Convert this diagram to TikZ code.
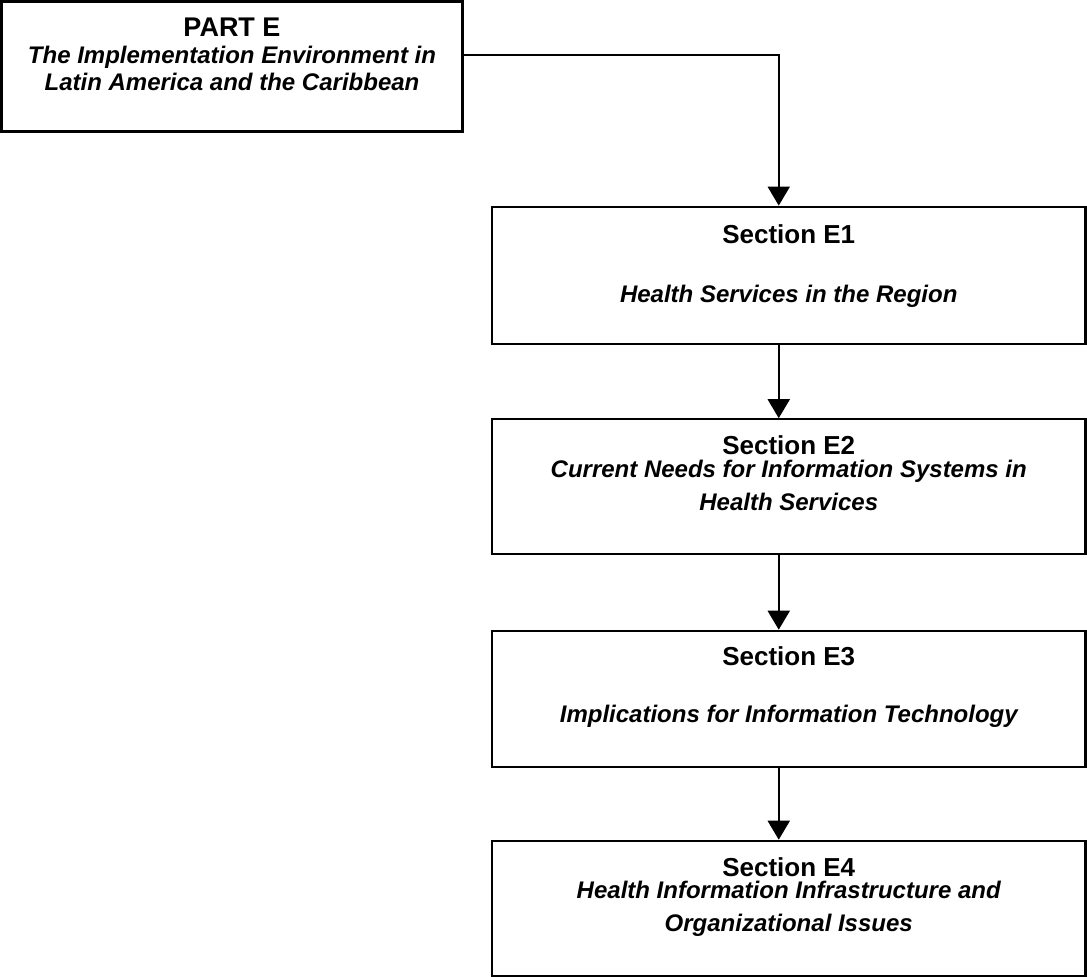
\documentclass[tikz,border=0pt]{standalone}
\usepackage{fontspec}
\setmainfont{Liberation Sans}
\usetikzlibrary{arrows.meta}
\begin{document}
\begin{tikzpicture}[x=1pt,y=-1pt,
  box/.style={draw, line width=2.2pt, rectangle, inner sep=0pt, minimum width=593.5pt},
  head/.style={anchor=base, inner sep=0pt, font=\fontsize{26}{30}\selectfont\bfseries},
  desc/.style={anchor=base, inner sep=0pt, font=\fontsize{24}{28}\selectfont\bfseries\itshape},
  conn/.style={line width=2pt, -{Triangle[width=22pt,length=19pt]}}]
\useasboundingbox (0,0) rectangle (1087,977);

% Part E header box
\node[box, minimum width=461pt, minimum height=130pt] (pe) at (232,66.5) {};
\node[head, font=\fontsize{27}{31}\selectfont\bfseries] (peh) at (232,36.7) {PART E};
\node[desc] (pel1) at (232,63) {The Implementation Environment in};
\node[desc] (pel2) at (232,90) {Latin America and the Caribbean};

% Section boxes
\node[box, minimum height=137.6pt] (e1) at (788.75,275.5) {};
\node[head] (e1h) at (788.75,243) {Section E1};
\node[desc] (e1d) at (788.75,302) {Health Services in the Region};

\node[box, minimum height=135pt] (e2) at (788.75,486.8) {};
\node[head] (e2h) at (788.75,454.5) {Section E2};
\node[desc] (e2d1) at (788.75,477.5) {Current Needs for Information Systems in};
\node[desc] (e2d2) at (788.75,510) {Health Services};

\node[box, minimum height=136pt] (e3) at (788.75,698.8) {};
\node[head] (e3h) at (788.75,665) {Section E3};
\node[desc] (e3d) at (788.75,722) {Implications for Information Technology};

\node[box, minimum height=135pt] (e4) at (788.75,908.3) {};
\node[head] (e4h) at (788.75,876.5) {Section E4};
\node[desc] (e4d1) at (788.75,898.5) {Health Information Infrastructure and};
\node[desc] (e4d2) at (788.75,931) {Organizational Issues};

% Connectors
\draw[conn] ([yshift=11.5pt]pe.east) -| ([xshift=-10pt]e1.north);
\draw[conn] ([xshift=-10pt]e1.south) -- ([xshift=-10pt]e2.north);
\draw[conn] ([xshift=-10pt]e2.south) -- ([xshift=-10pt]e3.north);
\draw[conn] ([xshift=-10pt]e3.south) -- ([xshift=-10pt]e4.north);
\end{tikzpicture}
\end{document}
